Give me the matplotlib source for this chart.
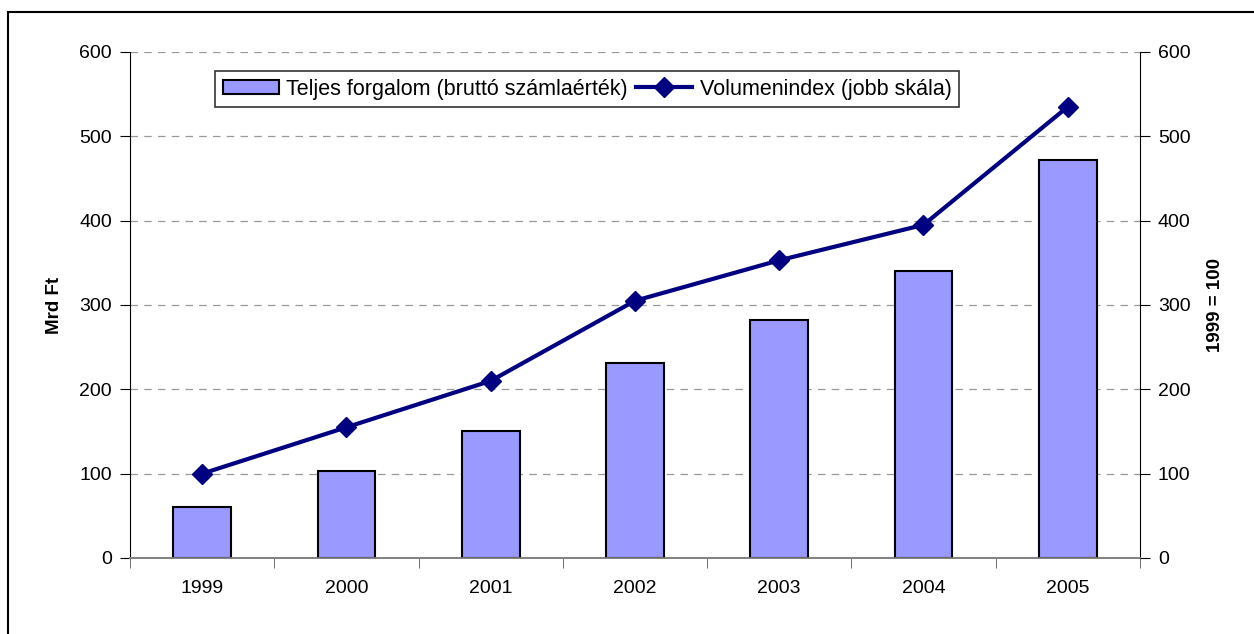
import matplotlib
matplotlib.use('Agg')
import matplotlib.pyplot as plt
import numpy as np
from matplotlib.patches import Rectangle

plt.rcParams['font.family'] = ['Liberation Sans', 'DejaVu Sans']

years = ['1999', '2000', '2001', '2002', '2003', '2004', '2005']
forgalom = [60, 103, 150, 231, 282, 340, 472]
volumenindex = [100, 155, 210, 305, 353, 395, 535]

fig = plt.figure(figsize=(12.54, 6.34), dpi=100)
ax = fig.add_axes([0.1037, 0.1199, 0.8053, 0.7981])
ax2 = ax.twinx()

x = np.arange(len(years))
bars = ax.bar(x, forgalom, width=0.4, color='#9999FF', edgecolor='black',
              linewidth=1.5, label='Teljes forgalom (bruttó számlaérték)', zorder=3)
line, = ax2.plot(x, volumenindex, color='#000080', linewidth=3, marker='D',
                 markersize=10, label='Volumenindex (jobb skála)', zorder=4)

ax.set_xlim(-0.5, len(years) - 0.5)
ax.set_ylim(0, 600)
ax2.set_ylim(0, 600)
ax.set_yticks(range(0, 601, 100))
ax2.set_yticks(range(0, 601, 100))
ax.yaxis.grid(True, linestyle=(0, (6, 5)), color='#999999', linewidth=0.9)
ax.set_axisbelow(True)

ax.set_xticks(x)
ax.set_xticklabels(years)
ax.set_xticks(np.arange(-0.5, len(years)), minor=True)
ax.tick_params(axis='x', which='major', length=0, pad=16, labelsize=14)
ax.tick_params(axis='x', which='minor', length=7, color='#555555', direction='out')
ax.tick_params(axis='y', length=7, labelsize=14, pad=6)
ax2.tick_params(axis='y', length=7, labelsize=14, pad=6)

for a in (ax, ax2):
    a.spines['top'].set_visible(False)
    a.spines['bottom'].set_color('#808080')
    a.spines['bottom'].set_linewidth(1.2)
ax.spines['right'].set_visible(False)
ax2.spines['left'].set_visible(False)
ax.spines['left'].set_color('#000000')
ax2.spines['right'].set_color('#000000')

ax.set_ylabel('Mrd Ft', fontsize=13.5, fontweight='bold', labelpad=12)
ax2.set_ylabel('1999 = 100', fontsize=13.5, fontweight='bold', rotation=90, labelpad=12)

leg = ax.legend([bars, line], [bars.get_label(), line.get_label()],
                loc='upper left', bbox_to_anchor=(0.0842, 0.962), ncol=2,
                fontsize=15.5, frameon=True, fancybox=False, edgecolor='black',
                handlelength=2.6, handleheight=0.65, handletextpad=0.35,
                columnspacing=0.4, borderpad=0.35, borderaxespad=0)
leg.get_frame().set_linewidth(1.2)
leg.set_zorder(10)

# outer frame of the chart
fig.patches.append(Rectangle((8 / 1254, -0.1), 1.2, 1 - 12 / 634 + 0.1,
                             transform=fig.transFigure, fill=False,
                             edgecolor='black', linewidth=1.5))

fig.savefig('out.png', dpi=100)
